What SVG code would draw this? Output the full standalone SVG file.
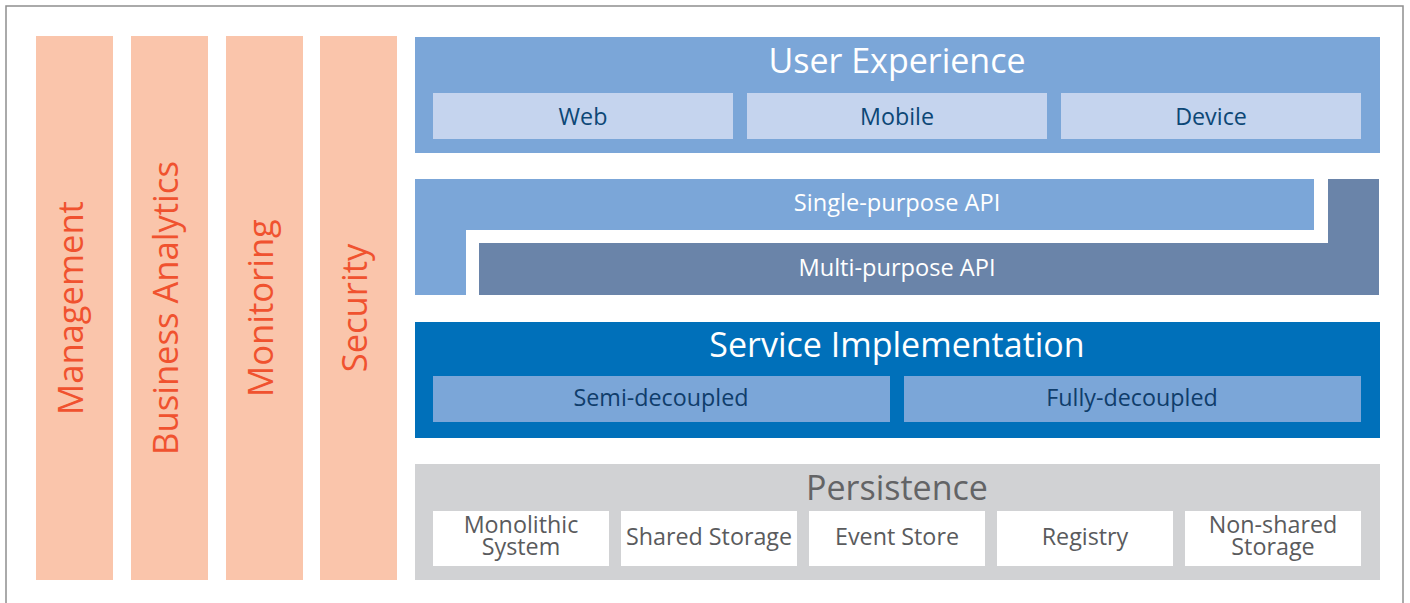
<svg xmlns="http://www.w3.org/2000/svg" width="1410" height="603" viewBox="0 0 1410 603">
<style>
text{font-family:"Open Sans","Noto Sans","Liberation Sans",sans-serif;text-anchor:middle}
.pillar{fill:#FAC5AB}
.ptxt{fill:#F0522F;font-size:34.6px}
.h{fill:#FFFFFF;font-size:34px}
.ux{fill:#C5D4EE}
.uxt{fill:#0C4776;font-size:23.3px}
.api{fill:#FFFFFF;font-size:23.6px}
.si{fill:#7BA6D8}
.sit{fill:#0F3D6B;font-size:23.3px}
.ps{fill:#FFFFFF}
.pst{fill:#5A5B5D;font-size:23.3px}
</style>
<rect x="6" y="6" width="1397" height="640" fill="#FFFFFF" stroke="#8E8E8E" stroke-width="1.5"/>
<g id="management"><rect class="pillar" x="36" y="36" width="77" height="544"/><text class="ptxt" transform="translate(83,308) rotate(-90)">Management</text></g>
<g id="business-analytics"><rect class="pillar" x="131" y="36" width="77" height="544"/><text class="ptxt" transform="translate(178,308) rotate(-90)">Business Analytics</text></g>
<g id="monitoring"><rect class="pillar" x="226" y="36" width="77" height="544"/><text class="ptxt" transform="translate(273,308) rotate(-90)">Monitoring</text></g>
<g id="security"><rect class="pillar" x="320" y="36" width="77" height="544"/><text class="ptxt" transform="translate(367,308) rotate(-90)">Security</text></g>
<g id="user-experience">
<rect x="415" y="37" width="965" height="116" fill="#7BA6D8"/>
<text class="h" x="897" y="73">User Experience</text>
<g id="web"><rect class="ux" x="433" y="93" width="300" height="46"/><text class="uxt" x="583" y="125">Web</text></g>
<g id="mobile"><rect class="ux" x="747" y="93" width="300" height="46"/><text class="uxt" x="897" y="125">Mobile</text></g>
<g id="device"><rect class="ux" x="1061" y="93" width="300" height="46"/><text class="uxt" x="1211" y="125">Device</text></g>
</g>
<g id="single-purpose-api">
<polygon points="415,179 1314,179 1314,230 466,230 466,295 415,295" fill="#7BA6D8"/>
<text class="api" x="897" y="211">Single-purpose API</text>
</g>
<g id="multi-purpose-api">
<polygon points="1328,179 1379,179 1379,295 479,295 479,243 1328,243" fill="#6A84A9"/>
<text class="api" x="897" y="276">Multi-purpose API</text>
</g>
<g id="service-implementation">
<rect x="415" y="322" width="965" height="116" fill="#0070BA"/>
<text class="h" x="897" y="357">Service Implementation</text>
<g id="semi-decoupled"><rect class="si" x="433" y="376" width="457" height="46"/><text class="sit" x="661" y="406">Semi-decoupled</text></g>
<g id="fully-decoupled"><rect class="si" x="904" y="376" width="457" height="46"/><text class="sit" x="1132" y="406">Fully-decoupled</text></g>
</g>
<g id="persistence">
<rect x="415" y="464" width="965" height="116" fill="#D1D2D4"/>
<text class="h" x="897" y="500" style="fill:#636466">Persistence</text>
<g id="monolithic-system"><rect class="ps" x="433" y="511" width="176" height="55"/><text class="pst" x="521" y="533">Monolithic<tspan x="521" dy="21.5">System</tspan></text></g>
<g id="shared-storage"><rect class="ps" x="621" y="511" width="176" height="55"/><text class="pst" x="709" y="545">Shared Storage</text></g>
<g id="event-store"><rect class="ps" x="809" y="511" width="176" height="55"/><text class="pst" x="897" y="545">Event Store</text></g>
<g id="registry"><rect class="ps" x="997" y="511" width="176" height="55"/><text class="pst" x="1085" y="545">Registry</text></g>
<g id="non-shared-storage"><rect class="ps" x="1185" y="511" width="176" height="55"/><text class="pst" x="1273" y="533">Non-shared<tspan x="1273" dy="21.5">Storage</tspan></text></g>
</g>
</svg>
